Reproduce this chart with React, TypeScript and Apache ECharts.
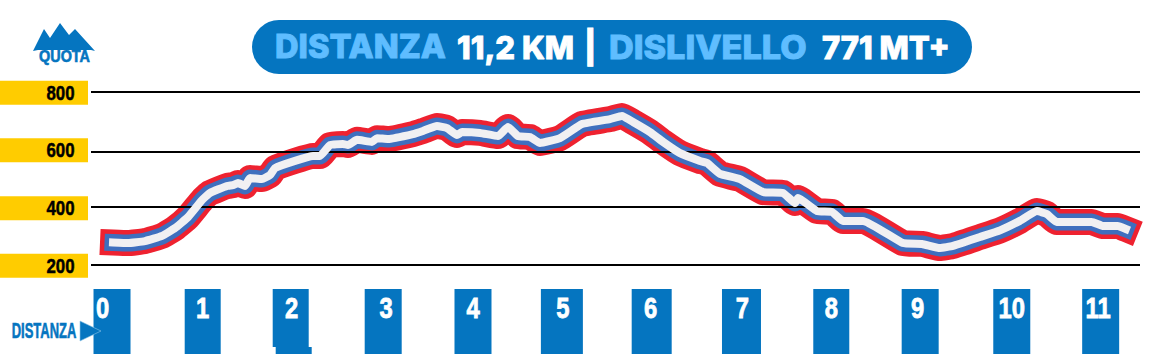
import React, { useEffect, useRef } from "react";
import * as echarts from "echarts";

// Profile: distance (km) and elevation (m)
const distanceKm = [0.011,0.178,0.367,0.557,0.702,0.846,1.002,1.091,1.281,1.347,1.403,1.481,1.537,1.67,1.76,1.815,2.038,2.238,2.316,2.428,2.572,2.628,2.728,2.895,2.951,3.073,3.352,3.463,3.619,3.731,3.842,3.898,4.098,4.298,4.41,4.521,4.655,4.766,4.989,5.234,5.546,5.679,5.802,5.991,6.136,6.325,6.548,6.626,6.771,6.993,7.25,7.472,7.606,7.639,7.851,8.018,8.14,8.363,8.808,9.02,9.22,9.365,9.666,9.889,10.11,10.3,10.41,10.52,10.91,11.04,11.2,11.29];
const elevationM = [278,276,283,301,328,366,425,450,474,477,484,474,502,498,512,536,561,578,578,616,620,616,634,627,640,637,654,665,682,675,651,661,658,647,679,647,644,623,640,689,706,717,696,661,627,588,561,554,516,498,453,450,415,432,387,384,353,353,276,273,259,266,297,320,353,387,377,349,349,335,335,325];

// Horizontal rules and the yellow altitude tabs, on the elevation scale
const ruleLevels = [800, 592, 401, 200];
const tabLevels = [797, 598, 397, 197];
const tabLabels = ["800", "600", "400", "200"];

// Kilometre posts
const postKm = [0, 1.01, 1.99, 3.02, 4.02, 5.01, 6.01, 7.01, 8.01, 9, 10.02, 11.01];
const postLabels = ["0", "1", "2", "3", "4", "5", "6", "7", "8", "9", "10", "11"];

// Styling
const BLUE = "#0575C0";
const LIGHT = "#5FBDFF";
const YELLOW = "#FFCC00";
const NARROW = '"Liberation Sans", Arial, sans-serif';
const HEAD = 'Inter, "Open Sans", sans-serif';
const postWidths = [37, 36, 36, 37, 37, 42, 40, 39, 36, 37, 37, 37];
const postLabelShift = [-9.5, 0, 1, 3, 0, 1, -1, 1, 0, -2.5, 0, -2.5];

const points = distanceKm.map((k, i) => [k, elevationM[i]]);

const band = (color: string, width: number, z: number) => ({
  type: "line",
  data: points,
  showSymbol: false,
  symbol: "none",
  silent: true,
  z,
  clip: false,
  smooth: 0.12,
  lineStyle: { color, width, join: "round", cap: "square" },
});

const headText = (text: string, x: number, fill: string, scaleX = 1) => ({
  type: "text",
  x,
  y: 47,
  scaleX,
  style: {
    text,
    fill,
    stroke: fill,
    lineWidth: 0.9,
    font: `800 32px ${HEAD}`,
    textAlign: "left",
    textVerticalAlign: "middle",
  },
});

export default function App() {
  const ref = useRef<HTMLDivElement>(null);
  useEffect(() => {
    document.body.style.margin = "0";
    document.body.style.overflow = "hidden";
    const chart = echarts.init(ref.current!, null, { renderer: "svg" });
    chart.setOption({
      animation: false,
      backgroundColor: "#fff",
      grid: [
        { left: 91, width: 1049, top: 92, height: 173 },
        { left: 91, width: 1049, top: 289, height: 65 },
      ],
      xAxis: [
        { type: "value", gridIndex: 0, min: -0.234, max: 11.448, show: false },
        { type: "value", gridIndex: 1, min: -0.234, max: 11.448, show: false },
      ],
      yAxis: [
        { type: "value", gridIndex: 0, min: 200, max: 800, show: false },
        { type: "value", gridIndex: 1, min: 0, max: 1, show: false },
      ],
      series: [
        {
          type: "line",
          data: [],
          silent: true,
          z: 1,
          markLine: {
            silent: true,
            symbol: "none",
            label: { show: false },
            lineStyle: { color: "#000", width: 2, type: "solid" },
            data: ruleLevels.map((v) => ({ yAxis: v })),
          },
        },
        {
          type: "custom",
          silent: true,
          z: 2,
          data: tabLevels.map((v) => [0, v]),
          renderItem: (params: any, api: any) => {
            const y = api.coord([0, api.value(1)])[1];
            return {
              type: "group",
              children: [
                { type: "rect", shape: { x: 0, y: y - 12, width: 88, height: 24 }, style: { fill: YELLOW } },
                {
                  type: "text",
                  x: 60.5,
                  y: y,
                  scaleX: 0.8,
                  style: {
                    text: tabLabels[params.dataIndex],
                    fill: "#000",
                    stroke: "#000",
                    lineWidth: 0.5,
                    font: `bold 21px ${NARROW}`,
                    textAlign: "center",
                    textVerticalAlign: "middle",
                  },
                },
              ],
            };
          },
        },
        band("#EE2230", 26, 3),
        band("#3F6FBE", 17, 4),
        band("#F1F0F2", 8, 5),
        {
          type: "custom",
          silent: true,
          xAxisIndex: 1,
          yAxisIndex: 1,
          z: 2,
          data: postKm.map((k) => [k, 1]),
          renderItem: (params: any, api: any) => {
            const i = params.dataIndex;
            const [cx, top] = api.coord([api.value(0), 1]);
            const bottom = api.coord([api.value(0), 0])[1];
            const w = postWidths[i];
            const kids: any[] = [];
            if (i === 2) {
              kids.push({ type: "rect", shape: { x: cx - w / 2, y: top, width: w, height: 58 }, style: { fill: BLUE } });
              kids.push({ type: "rect", shape: { x: cx - w / 2 + 3, y: top + 58, width: w, height: bottom - top - 58 }, style: { fill: BLUE } });
            } else {
              kids.push({ type: "rect", shape: { x: cx - w / 2, y: top, width: w, height: bottom - top }, style: { fill: BLUE } });
            }
            kids.push({
              type: "text",
              x: cx + postLabelShift[i],
              y: top + 19,
              scaleX: 0.82,
              style: {
                text: postLabels[i],
                fill: "#fff",
                stroke: "#fff",
                lineWidth: 0.8,
                font: `bold 29px ${NARROW}`,
                textAlign: "center",
                textVerticalAlign: "middle",
              },
            });
            return { type: "group", children: kids };
          },
        },
      ],
      graphic: [
        { type: "rect", shape: { x: 252, y: 20, width: 720, height: 54, r: 27 }, style: { fill: BLUE } },
        headText("DISTANZA", 275, LIGHT, 1.02),
        headText("11,2 KM", 457, "#fff", 0.97),
        headText("|", 584, "#fff"),
        headText("DISLIVELLO", 609, LIGHT, 1.07),
        headText("771 MT+", 822, "#fff", 0.97),
        {
          type: "polygon",
          shape: { points: [[33, 51], [44, 29], [50, 38], [60, 23], [69, 35], [75, 29], [95, 51], [91, 50], [38, 50]] },
          style: { fill: BLUE },
        },
        {
          type: "text",
          x: 64.5,
          y: 56.5,
          scaleX: 0.9,
          style: {
            text: "QUOTA",
            fill: BLUE,
            stroke: BLUE,
            lineWidth: 0.6,
            font: `bold 16px ${NARROW}`,
            textAlign: "center",
            textVerticalAlign: "middle",
          },
        },
        {
          type: "text",
          x: 44,
          y: 330.5,
          z: 20,
          scaleX: 0.59,
          style: {
            text: "DISTANZA",
            fill: BLUE,
            stroke: BLUE,
            lineWidth: 0.6,
            font: `bold 22px ${NARROW}`,
            textAlign: "center",
            textVerticalAlign: "middle",
          },
        },
        {
          type: "polygon",
          z: 20,
          shape: { points: [[80, 321], [101, 331], [80, 341]] },
          style: { fill: BLUE, stroke: "#8FC4E6", lineWidth: 0.6 },
        },
      ],
    });
    return () => chart.dispose();
  }, []);
  return <div ref={ref} style={{ width: 1166, height: 354 }} />;
}
